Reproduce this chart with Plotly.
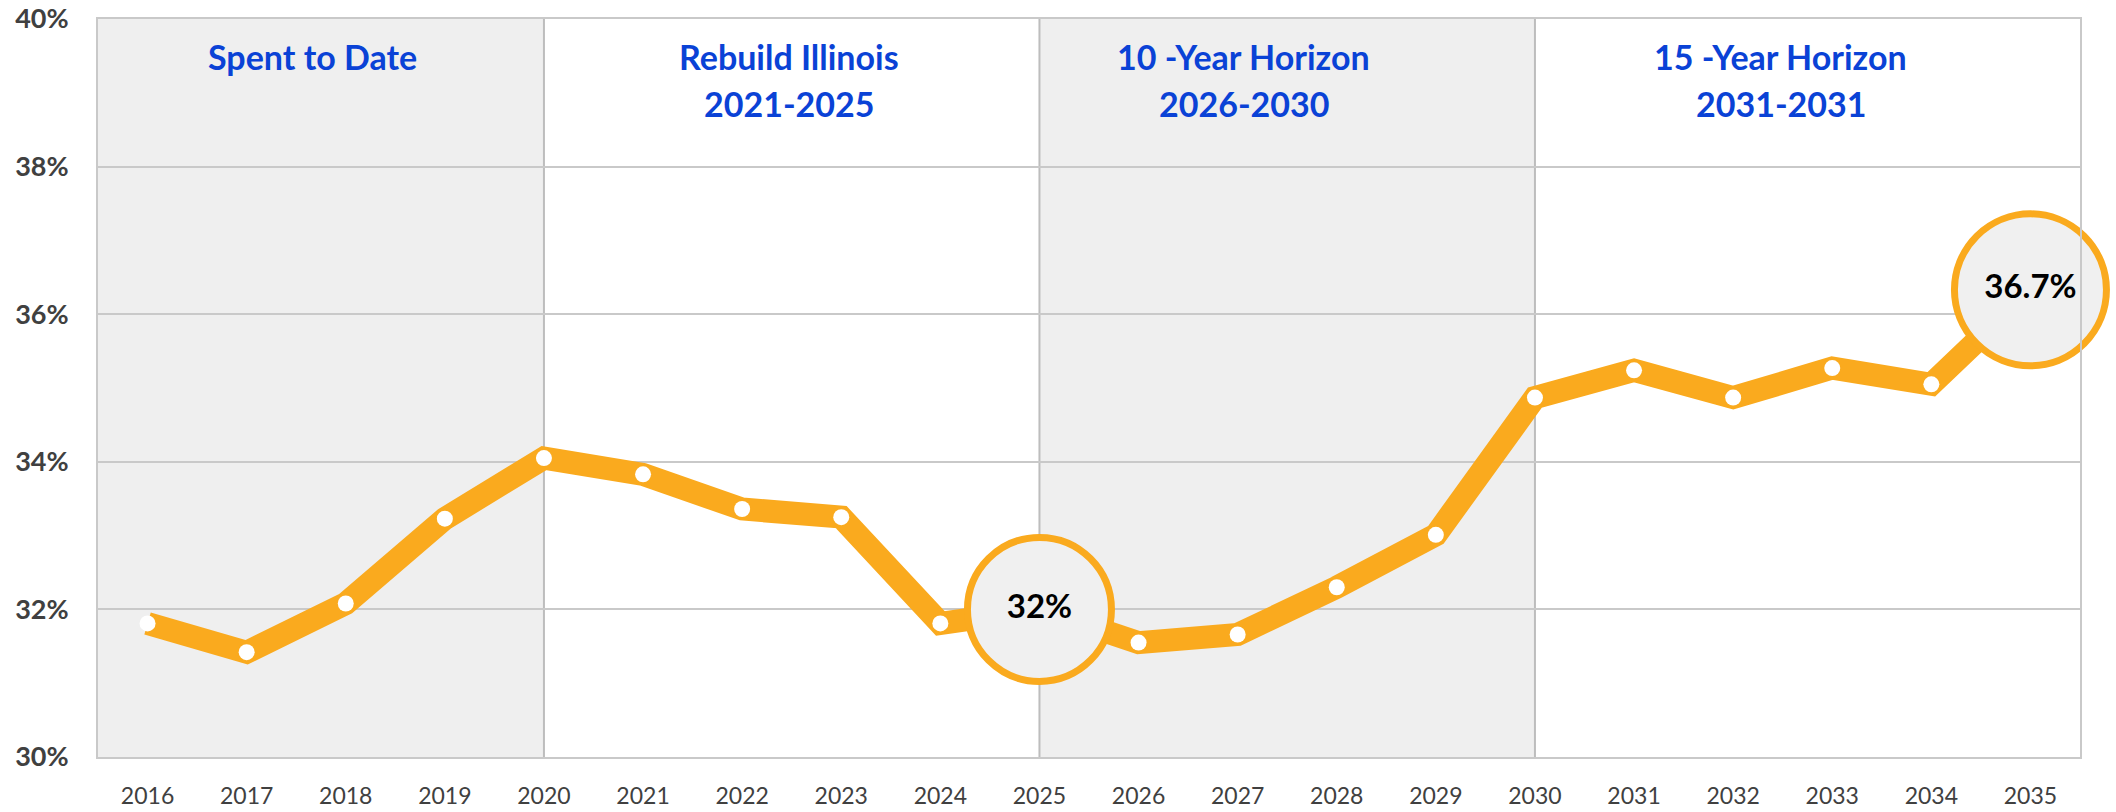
import plotly.graph_objects as go

years = list(range(2016, 2036))
values = [31.81, 31.42, 32.08, 33.23, 34.05, 33.83, 33.36, 33.25, 31.81, 32.0,
          31.55, 31.66, 32.30, 33.01, 34.87, 35.24, 34.87, 35.27, 35.05, 36.33]

callout_years = [2025, 2035]
callout_labels = ["32%", "36.7%"]
callout_sizes = [144, 152]

section_bounds = [2015.5, 2020, 2025, 2030, 2035.5]
section_shaded = [True, False, True, False]
section_line1 = ["Spent to Date", "Rebuild Illinois", "10 -Year Horizon", "15 -Year Horizon"]
section_line2 = ["", "2021-2025", "2026-2030", "2031-2031"]
section_label_x = [2017.66, 2022.47, 2027.06, 2032.48]

y_ticks = [30, 32, 34, 36, 38, 40]

ORANGE = "#FAAA1E"
BLUE = "#0A42D6"
GRID = "#C9C9C9"
SHADE = "#EFEFEF"
FONT = "Lato"

fig = go.Figure()

fig.add_trace(go.Scatter(
    x=years, y=values, mode="lines+markers",
    line=dict(color=ORANGE, width=23),
    marker=dict(color="white", size=16, opacity=1, line=dict(width=0)),
    hoverinfo="skip", showlegend=False, cliponaxis=False,
))

cy = [values[years.index(yr)] for yr in callout_years]
fig.add_trace(go.Scatter(
    x=callout_years, y=cy, mode="markers+text",
    marker=dict(color="#F0F0F0", size=callout_sizes, opacity=1,
                line=dict(color=ORANGE, width=7)),
    text=callout_labels, textposition="middle center",
    textfont=dict(family=FONT, size=33, color="#000000", weight="bold"),
    hoverinfo="skip", showlegend=False, cliponaxis=False,
))

shapes = []
for i, shaded in enumerate(section_shaded):
    if shaded:
        shapes.append(dict(type="rect", xref="x", yref="paper",
                           x0=section_bounds[i], x1=section_bounds[i + 1], y0=0, y1=1,
                           fillcolor=SHADE, line=dict(width=0), layer="below"))
for b in section_bounds[1:-1]:
    shapes.append(dict(type="line", xref="x", yref="paper", x0=b, x1=b, y0=0, y1=1,
                       line=dict(color="#BDBDBD", width=2), layer="below"))

annotations = []
for x, t1, t2 in zip(section_label_x, section_line1, section_line2):
    annotations.append(dict(x=x, y=39.49, xref="x", yref="y", text=t1, showarrow=False,
                            font=dict(family=FONT, size=34, color=BLUE, weight="bold")))
    if t2:
        annotations.append(dict(x=x, y=38.86, xref="x", yref="y", text=t2, showarrow=False,
                                font=dict(family=FONT, size=34, color=BLUE, weight="bold")))

fig.update_layout(
    width=2116, height=812,
    margin=dict(l=98, r=36, t=19, b=55),
    paper_bgcolor="white", plot_bgcolor="white",
    shapes=shapes, annotations=annotations,
    xaxis=dict(range=[2015.5, 2035.5], tickvals=years, ticktext=[str(y) for y in years],
               showgrid=False, zeroline=False, showline=True, linecolor=GRID, linewidth=2,
               mirror=True, ticks="outside", ticklen=17, tickcolor="rgba(0,0,0,0)",
               automargin=False,
               tickfont=dict(family=FONT, size=23, color="#404040")),
    yaxis=dict(range=[30, 40], tickvals=y_ticks, ticktext=[f"{v}%" for v in y_ticks],
               showgrid=True, gridcolor=GRID, gridwidth=1.5, zeroline=False,
               showline=True, linecolor=GRID, linewidth=2, mirror=True,
               ticks="outside", ticklen=22, tickcolor="rgba(0,0,0,0)",
               automargin=False,
               tickfont=dict(family=FONT, size=27, color="#404040", weight="bold")),
)

fig.write_html("out.html", config={"displayModeBar": False})

with open("out.html", "r", encoding="utf-8") as f:
    html = f.read()
html = html.replace("<head>", "<head><style>html,body{margin:0;padding:0;overflow:hidden;}</style>", 1)
with open("out.html", "w", encoding="utf-8") as f:
    f.write(html)
